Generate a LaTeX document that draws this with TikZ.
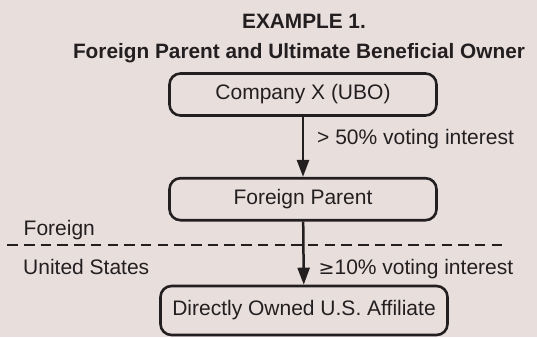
\documentclass[tikz,border=0pt]{standalone}
\usepackage{fontspec}
\setmainfont{Liberation Sans}
\usetikzlibrary{arrows.meta}
\definecolor{bg}{RGB}{232,223,221}
\definecolor{ink}{RGB}{35,31,32}
\tikzset{
  box/.style={draw=ink, line width=2.6pt, rounded corners=11pt, text=ink,
    font=\fontsize{21}{25}\selectfont, inner sep=0pt, align=center},
  lbl/.style={text=ink, font=\fontsize{21}{25}\selectfont, inner sep=0pt, anchor=base west},
  ttl/.style={text=ink, font=\fontsize{20.8}{25}\selectfont\bfseries, inner sep=0pt, anchor=base},
  arr/.style={draw=ink, line width=2.5pt, -{Triangle[length=17pt,width=12pt]}},
  sep/.style={draw=ink, line width=2.3pt, dash pattern=on 10.5pt off 6.2pt}
}
\begin{document}
\begin{tikzpicture}[x=1pt,y=-1pt]
\fill[bg] (0,0) rectangle (537,337);
\useasboundingbox (0,0) rectangle (537,337);
\node[ttl] (t1) at (304,29) {EXAMPLE 1.};
\node[ttl] (t2) at (299,58) {Foreign Parent and Ultimate Beneficial Owner};
\node[box, minimum width=267pt, minimum height=42pt] (ubo) at (303,94.5) {Company X (UBO)};
\node[box, minimum width=267pt, minimum height=42pt] (fp) at (303,199.2) {Foreign Parent};
\node[box, minimum width=287pt, minimum height=49pt] (us) at (304,310.5) {Directly Owned U.S. Affiliate};
\draw[arr] (ubo) -- (fp);
\draw[arr] (fp) -- (us);
\node[lbl] (l1) at (317,144.5) {> 50\% voting interest};
\node[lbl] (l2) at (318.5,274.5) {{\fontspec{DejaVu Sans}\fontsize{19}{25}\selectfont ≥}10\% voting interest};
\node[lbl] (fr) at (23.5,235.5) {Foreign};
\node[lbl] (un) at (23,274.5) {United States};
\coordinate (d1) at (7.3,245.2);
\coordinate (d2) at (502,245.2);
\draw[sep] (d1) -- (d2);
\end{tikzpicture}
\end{document}
